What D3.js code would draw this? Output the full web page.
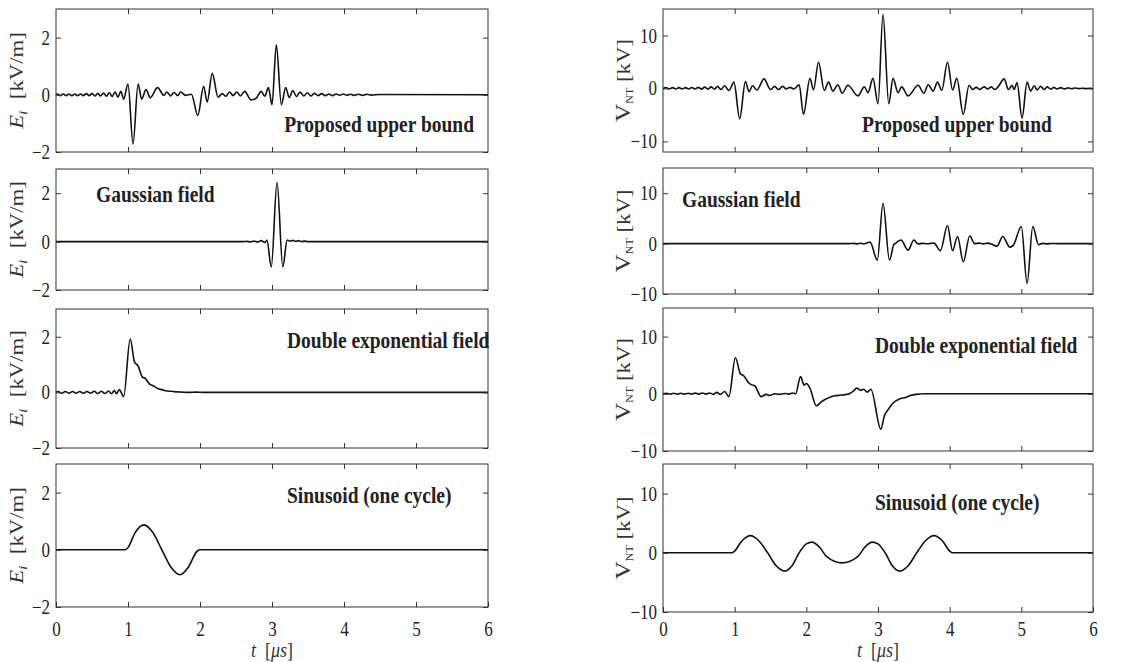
<!DOCTYPE html>
<html>
<head>
<meta charset="utf-8">
<script src="https://cdn.jsdelivr.net/npm/d3@7"></script>
<style>
  body { margin: 0; background: #fff; }
  svg { display: block; font-family: "Liberation Serif", "Times New Roman", serif; }
  svg text { font-family: "Liberation Serif", "Times New Roman", serif; }
</style>
</head>
<body>
<svg id="viz"></svg>
<script>

// ---- data ----
var tTicks = [0, 1, 2, 3, 4, 5, 6];
var eTicks = [-2, 0, 2];
var vTicks = [-10, 0, 10];
var titles = ["Proposed upper bound", "Gaussian field", "Double exponential field", "Sinusoid (one cycle)"];

// incident field E_i [kV/m], pairs of [t (us), value]
var eUpper = [[0,0],[0.02,0.03],[0.06,-0.03],[0.1,0.03],[0.14,-0.03],[0.18,0.03],[0.22,-0.03],[0.26,0.03],[0.3,-0.03],
  [0.34,0.03],[0.38,-0.03],[0.42,0.04],[0.46,-0.03],[0.5,0.04],[0.54,-0.04],[0.58,0.05],[0.62,-0.04],[0.66,0.06],
  [0.7,-0.05],[0.74,0.07],[0.78,-0.06],[0.82,0.1],[0.86,-0.08],[0.9,0.12],[0.94,-0.15],[1.0,0.38],[1.07,-1.72],
  [1.14,0.38],[1.19,-0.15],[1.25,0.18],[1.31,-0.1],[1.41,0.25],[1.5,-0.02],[1.54,0.1],[1.59,-0.04],[1.64,0.08],
  [1.69,-0.03],[1.73,0.1],[1.8,-0.02],[1.88,0.02],[1.97,-0.72],[2.05,0.3],[2.1,-0.25],[2.17,0.75],[2.25,-0.08],
  [2.31,0.04],[2.36,-0.05],[2.41,0.1],[2.46,-0.03],[2.51,0.1],[2.56,-0.04],[2.62,0.12],[2.71,-0.18],[2.78,-0.12],
  [2.85,0.12],[2.9,-0.05],[2.95,0.25],[3.0,-0.35],[3.06,1.75],[3.13,-0.35],[3.19,0.25],[3.24,-0.1],[3.29,0.15],
  [3.34,-0.06],[3.39,0.1],[3.44,-0.04],[3.49,0.07],[3.54,-0.04],[3.59,0.05],[3.64,-0.03],[3.69,0.04],[3.74,-0.03],
  [3.79,0.03],[3.84,-0.03],[3.89,0.03],[3.94,-0.02],[3.99,0.03],[4.04,-0.02],[4.09,0.02],[4.14,-0.02],[4.2,0.02],
  [4.26,-0.02],[4.32,0.02],[4.38,-0.01],[4.5,0.01],[6,0]];
var eGauss = [[0,0],[2.6,0],[2.65,0.01],[2.7,-0.01],[2.75,0.02],[2.8,-0.02],[2.85,0.04],[2.9,-0.04],[2.93,0.06],
  [2.99,-1.05],[3.07,2.45],[3.15,-1.05],[3.21,0.06],[3.25,0.02],[3.29,0.05],[3.33,0.01],[3.37,0.04],[3.41,0],
  [3.45,0.02],[3.5,0],[6,0]];
var eDexp = [[0,0],[0.03,0.03],[0.08,-0.03],[0.13,0.03],[0.18,-0.03],[0.23,0.03],[0.28,-0.03],[0.33,0.03],
  [0.38,-0.03],[0.43,0.03],[0.48,-0.03],[0.53,0.04],[0.58,-0.04],[0.63,0.04],[0.68,-0.04],[0.73,0.05],[0.77,-0.05],
  [0.81,0.07],[0.84,-0.05],[0.88,0.1],[0.94,-0.15],[1.03,1.92],[1.09,1.1],[1.14,0.95],[1.2,0.55],[1.24,0.5],
  [1.3,0.3],[1.34,0.25],[1.42,0.13],[1.47,0.1],[1.54,0.05],[1.6,0.04],[1.66,0.02],[1.75,0.01],[1.85,0],
  [1.95,0.01],[2.05,0],[6,0]];
var eSine = [[0,0],[0.96,0],[1.0,0.08],[1.1,0.6],[1.22,0.87],[1.34,0.62],[1.47,0],[1.6,-0.62],[1.72,-0.87],
  [1.84,-0.6],[1.95,-0.08],[1.99,0],[6,0]];

// induced voltage V_NT [kV]
var vUpper = [[0,0],[0.04,0.15],[0.09,-0.1],[0.13,0.15],[0.18,-0.1],[0.22,0.15],[0.27,-0.1],[0.31,0.15],[0.36,-0.1],
  [0.4,0.18],[0.45,-0.1],[0.49,0.2],[0.54,-0.12],[0.58,0.25],[0.63,-0.12],[0.67,0.3],[0.72,-0.15],[0.76,0.4],
  [0.81,-0.2],[0.86,0.5],[0.92,-0.4],[0.99,1.2],[1.07,-5.7],[1.15,1.3],[1.2,-0.6],[1.25,0.5],[1.31,-0.3],
  [1.41,1.8],[1.5,-0.2],[1.56,0.4],[1.61,-0.2],[1.67,0.4],[1.72,-0.1],[1.77,0.2],[1.83,-0.1],[1.9,0.7],
  [1.96,-4.9],[2.05,1.9],[2.1,-0.3],[2.17,5.0],[2.25,-0.4],[2.31,1.2],[2.37,-0.5],[2.44,0.7],[2.5,-0.9],
  [2.58,0.6],[2.72,-1.4],[2.81,0.3],[2.86,-0.8],[2.93,1.9],[3.0,-2.9],[3.07,14],[3.15,-2.9],[3.21,1.9],
  [3.28,-0.8],[3.33,0.3],[3.42,-1.4],[3.56,0.6],[3.64,-0.9],[3.7,0.7],[3.77,-0.5],[3.83,1.2],[3.89,-0.4],
  [3.97,5.0],[4.04,-0.3],[4.1,1.9],[4.19,-4.9],[4.27,0.6],[4.32,-0.2],[4.37,0.2],[4.42,-0.2],[4.48,0.3],
  [4.53,-0.1],[4.58,0.3],[4.63,-0.2],[4.68,0.4],[4.76,1.8],[4.82,-0.2],[4.87,0.6],[4.9,-0.2],[4.94,1.1],
  [5.01,-5.6],[5.08,1.2],[5.13,-0.5],[5.18,0.5],[5.22,-0.3],[5.27,0.4],[5.32,-0.2],[5.36,0.3],[5.41,-0.15],
  [5.45,0.2],[5.5,-0.1],[5.55,0.15],[5.6,-0.08],[5.65,0.1],[5.7,-0.05],[5.75,0.08],[5.8,-0.04],[5.85,0.05],
  [5.9,-0.03],[5.95,0.03],[6,0]];
var vGauss = [[0,0],[2.6,0],[2.66,0.05],[2.71,-0.05],[2.76,0.08],[2.8,-0.08],[2.85,0.15],[2.89,0.3],[2.99,-3.3],
  [3.07,8.0],[3.16,-3.3],[3.22,-0.2],[3.25,0.1],[3.32,0.7],[3.42,-1.3],[3.5,0.7],[3.56,-0.05],[3.62,0.05],
  [3.68,-0.02],[3.74,0.05],[3.78,0.1],[3.87,-1.4],[3.97,3.6],[4.04,-1.4],[4.11,1.4],[4.19,-3.6],[4.28,1.5],
  [4.35,0],[4.41,0.1],[4.47,-0.05],[4.53,0.1],[4.58,-0.1],[4.66,-0.5],[4.74,1.4],[4.84,-0.7],[4.89,-0.3],
  [5.0,3.4],[5.08,-7.9],[5.16,3.4],[5.24,-0.2],[5.3,0.05],[5.36,-0.05],[5.42,0.03],[5.5,0],[6,0]];
var vDexp = [[0,0],[0.05,0.1],[0.1,-0.05],[0.15,0.1],[0.2,-0.05],[0.25,0.1],[0.3,-0.05],[0.35,0.1],[0.4,-0.05],
  [0.45,0.12],[0.5,-0.05],[0.55,0.15],[0.6,-0.05],[0.65,0.15],[0.7,-0.1],[0.75,0.25],[0.8,-0.1],[0.86,0.4],
  [0.92,-0.5],[1.01,6.3],[1.08,3.5],[1.13,3.1],[1.19,2.0],[1.23,1.6],[1.28,1.4],[1.37,-0.5],[1.44,-0.1],
  [1.49,-0.3],[1.56,0],[1.62,-0.1],[1.7,0.05],[1.76,-0.05],[1.81,0.15],[1.85,0],[1.92,3.0],[1.97,1.5],
  [2.0,1.8],[2.05,1.0],[2.14,-2.1],[2.2,-1.5],[2.26,-1.0],[2.33,-0.6],[2.4,-0.35],[2.47,-0.25],[2.54,-0.15],
  [2.6,0],[2.66,0.5],[2.7,1.0],[2.76,0.6],[2.8,0.8],[2.85,0.3],[2.9,0.8],[3.04,-6.2],[3.09,-3.8],[3.14,-2.8],
  [3.21,-1.6],[3.3,-0.9],[3.37,-0.7],[3.45,-0.3],[3.53,-0.1],[3.65,0],[6,0]];
var vSine = [[0,0],[0.96,0],[1.0,0.3],[1.1,2.0],[1.22,2.9],[1.34,2.0],[1.46,0],[1.58,-2.2],[1.7,-3.1],[1.8,-2.2],
  [1.9,0],[2.0,1.5],[2.08,1.8],[2.18,1.0],[2.28,-0.6],[2.5,-1.7],[2.72,-0.6],[2.82,1.0],[2.92,1.8],[3.0,1.5],
  [3.1,0],[3.2,-2.2],[3.3,-3.1],[3.42,-2.2],[3.54,0],[3.66,2.0],[3.78,2.9],[3.9,2.0],[4.0,0.3],[4.04,0],[6,0]];

// ---- layout ----
var width = 1141;
var height = 662;
var stretch = 1.2;   // text in the source looks taller than wide
var serif = "'Liberation Serif', 'Times New Roman', serif";
var tickFont = 17;

var svg = d3.select("#viz")
  .attr("width", width)
  .attr("height", height);

var panels = [
  // left column: field
  { x: [56, 488], y: [9, 152],   dom: [-2, 3],   ticks: eTicks, data: eUpper, title: 0, tx: 474, ty: 132, anchor: "end", kind: "E" },
  { x: [56, 488], y: [169, 290], dom: [-2, 3],   ticks: eTicks, data: eGauss, title: 1, tx: 96,  ty: 202, anchor: "start", kind: "E" },
  { x: [56, 488], y: [309, 448], dom: [-2, 3],   ticks: eTicks, data: eDexp,  title: 2, tx: 287, ty: 348, anchor: "start", kind: "E" },
  { x: [56, 488], y: [464, 607], dom: [-2, 3],   ticks: eTicks, data: eSine,  title: 3, tx: 287, ty: 503, anchor: "start", kind: "E", last: true },
  // right column: voltage
  { x: [663, 1093], y: [9, 152],   dom: [-12, 15], ticks: vTicks, data: vUpper, title: 0, tx: 862, ty: 132, anchor: "start", kind: "V" },
  { x: [663, 1093], y: [168, 294], dom: [-10, 15], ticks: vTicks, data: vGauss, title: 1, tx: 682, ty: 207, anchor: "start", kind: "V" },
  { x: [663, 1093], y: [308, 451], dom: [-10, 15], ticks: vTicks, data: vDexp,  title: 2, tx: 875, ty: 353, anchor: "start", kind: "V" },
  { x: [663, 1093], y: [464, 612], dom: [-10, 15], ticks: vTicks, data: vSine,  title: 3, tx: 875, ty: 510, anchor: "start", kind: "V", last: true }
];

var labelBaseline = 636;

panels.forEach(function(p) {

  var x = d3.scaleLinear().domain([0, 6]).range(p.x);
  var y = d3.scaleLinear().domain(p.dom).range([p.y[1], p.y[0]]);

  var g = svg.append("g");

  // curve
  var line = d3.line()
    .x(function(d) { return x(d[0]); })
    .y(function(d) { return y(d[1]); })
    .curve(d3.curveMonotoneX);

  g.append("path")
    .datum(p.data)
    .attr("d", line)
    .attr("fill", "none")
    .attr("stroke", "#111")
    .attr("stroke-width", 1.6)
    .attr("stroke-linejoin", "round");

  // axes, inward ticks on all four sides
  g.append("g")
    .attr("class", "ax")
    .attr("transform", "translate(" + p.x[0] + ",0)")
    .call(d3.axisLeft(y).tickValues(p.ticks).tickSize(-5).tickSizeOuter(0).tickPadding(6)
      .tickFormat(d3.format("d")));

  g.append("g")
    .attr("class", "ax")
    .attr("transform", "translate(" + p.x[1] + ",0)")
    .call(d3.axisRight(y).tickValues(p.ticks).tickSize(-5).tickSizeOuter(0).tickFormat(""));

  g.append("g")
    .attr("class", "ax")
    .attr("transform", "translate(0," + p.y[0] + ")")
    .call(d3.axisTop(x).tickValues([1, 2, 3, 4, 5]).tickSize(-5).tickSizeOuter(0).tickFormat(""));

  var padB = (labelBaseline - p.y[1]) / stretch - 0.71 * tickFont;
  g.append("g")
    .attr("class", "ax")
    .attr("transform", "translate(0," + p.y[1] + ")")
    .call(d3.axisBottom(x).tickValues(p.last ? tTicks : [1, 2, 3, 4, 5])
      .tickSize(-5).tickSizeOuter(0).tickPadding(padB)
      .tickFormat(p.last ? d3.format("d") : ""));

  g.selectAll(".ax")
    .attr("font-family", serif)
    .style("font-family", serif);
  g.selectAll(".domain").remove();
  g.selectAll(".tick line").attr("stroke", "#333");
  g.selectAll(".tick text")
    .attr("font-size", tickFont)
    .attr("fill", "#222")
    .attr("transform", "scale(1," + stretch + ")");

  // box
  g.append("rect")
    .attr("x", p.x[0])
    .attr("y", p.y[0])
    .attr("width", p.x[1] - p.x[0])
    .attr("height", p.y[1] - p.y[0])
    .attr("fill", "none")
    .attr("stroke", "#333")
    .attr("stroke-width", 1);

  // panel annotation
  g.append("text")
    .attr("transform", "translate(" + p.tx + "," + p.ty + ") scale(1," + stretch + ")")
    .attr("text-anchor", p.anchor)
    .attr("font-weight", "bold")
    .attr("font-size", 19.5)
    .attr("fill", "#222")
    .text(titles[p.title]);

  // y label
  var cy = (p.y[0] + p.y[1]) / 2;
  var lx = p.kind === "E" ? 23 : 630;
  var lab = g.append("text")
    .attr("transform", "translate(" + lx + "," + cy + ") rotate(-90) scale(" + stretch + ",1)")
    .attr("text-anchor", "middle")
    .attr("font-size", 19)
    .attr("fill", "#333");
  if (p.kind === "E") {
    lab.append("tspan").attr("font-style", "italic").text("E");
    lab.append("tspan").attr("font-style", "italic").attr("font-size", 13).attr("dy", 4).text("i");
    lab.append("tspan").attr("dy", -4).text("\u2002[kV/m]");
  } else {
    lab.append("tspan").attr("font-size", 21).text("V");
    lab.append("tspan").attr("font-size", 10).attr("dy", 3).text("NT");
    lab.append("tspan").attr("dy", -3).text(" [kV]");
  }

  // x label under bottom row
  if (p.last) {
    var xl = g.append("text")
      .attr("transform", "translate(" + ((p.x[0] + p.x[1]) / 2) + ",657) scale(1," + stretch + ")")
      .attr("text-anchor", "middle")
      .attr("font-size", 18)
      .attr("fill", "#333");
    xl.append("tspan").attr("font-style", "italic").text("t");
    xl.append("tspan").text("\u2002[");
    xl.append("tspan").attr("font-style", "italic").text("\u03bcs");
    xl.append("tspan").text("]");
  }
});

</script>
</body>
</html>
